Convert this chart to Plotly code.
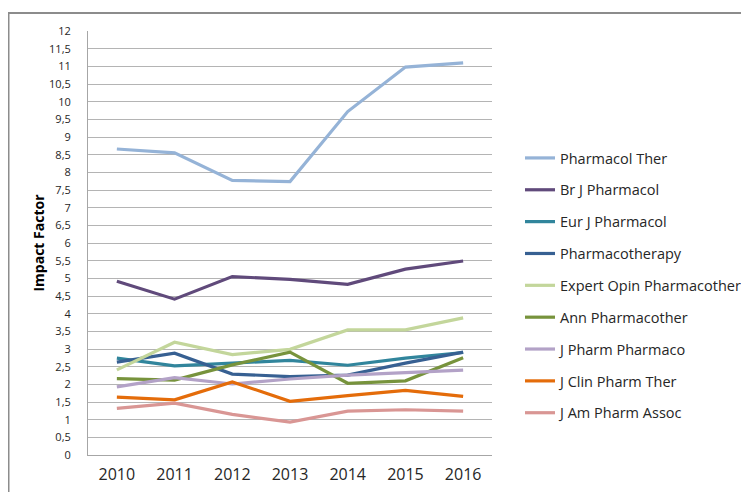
import plotly.graph_objects as go

years = ["2010", "2011", "2012", "2013", "2014", "2015", "2016"]

pharmacol_ther = [8.66, 8.55, 7.77, 7.74, 9.72, 10.98, 11.10]
br_j_pharmacol = [4.92, 4.41, 5.05, 4.97, 4.83, 5.26, 5.49]
eur_j_pharmacol = [2.74, 2.52, 2.60, 2.68, 2.54, 2.74, 2.90]
pharmacotherapy = [2.63, 2.88, 2.29, 2.22, 2.26, 2.60, 2.91]
expert_opin = [2.41, 3.19, 2.84, 2.99, 3.54, 3.54, 3.88]
ann_pharmacother = [2.16, 2.12, 2.55, 2.91, 2.03, 2.10, 2.75]
j_pharm_pharmaco = [1.93, 2.19, 2.01, 2.15, 2.26, 2.34, 2.40]
j_clin_pharm_ther = [1.64, 1.56, 2.07, 1.52, 1.68, 1.83, 1.66]
j_am_pharm_assoc = [1.32, 1.47, 1.15, 0.93, 1.24, 1.28, 1.24]

series_names = ["Pharmacol Ther", "Br J Pharmacol", "Eur J Pharmacol", "Pharmacotherapy",
                "Expert Opin Pharmacother", "Ann Pharmacother", "J Pharm Pharmaco",
                "J Clin Pharm Ther", "J Am Pharm Assoc"]
series_values = [pharmacol_ther, br_j_pharmacol, eur_j_pharmacol, pharmacotherapy,
                 expert_opin, ann_pharmacother, j_pharm_pharmaco, j_clin_pharm_ther,
                 j_am_pharm_assoc]
colors = ["#95B3D7", "#604A7B", "#31859C", "#376092", "#C3D69B",
          "#77933C", "#B3A2C7", "#E46C0A", "#D99694"]

fig = go.Figure()
for i, (name, vals, col) in enumerate(zip(series_names, series_values, colors)):
    fig.add_trace(go.Scatter(x=years, y=vals, mode="lines", name=name,
                             legendgroup=f"g{i}",
                             line=dict(color=col, width=3.2)))

# page has an 8px body margin; figure coordinates are page coordinates minus 8
W, H = 749, 492
ml, mr, mt, mb = 80, 265, 23, 45
pw, ph = W - ml - mr, H - mt - mb

fig.update_layout(
    width=W, height=H,
    margin=dict(l=ml, r=mr, t=mt, b=mb, autoexpand=False),
    paper_bgcolor="white", plot_bgcolor="white",
    separators=", ",
    font=dict(family="Open Sans, Liberation Sans, sans-serif", color="#262626"),
    showlegend=True,
    legend=dict(x=(512 - ml) / pw, xanchor="left", y=1 - (134 - mt) / ph, yanchor="top",
                font=dict(size=14.5, color="#262626"), traceorder="grouped",
                tracegroupgap=10, bgcolor="rgba(0,0,0,0)"),
    xaxis=dict(type="category", range=[-0.5, 6.5], showgrid=False, automargin=False,
               showline=True, linecolor="#a6a6a6", linewidth=1,
               ticks="", tickfont=dict(size=16, color="#262626"), ticklabelstandoff=5),
    yaxis=dict(range=[0, 12], dtick=0.5, tick0=0, showgrid=True, gridcolor="#b4b4b4",
               gridwidth=1, showline=True, linecolor="#a6a6a6", linewidth=1,
               zeroline=False, ticks="", tickfont=dict(size=11, color="#262626"),
               ticklabelstandoff=14, automargin=False,
               title=dict(text="<b>Impact Factor</b>", font=dict(size=14, color="black"),
                          standoff=1)),
    shapes=[dict(type="rect", xref="paper", yref="paper",
                 x0=(0.5 - ml) / pw, x1=(800 - ml) / pw,
                 y0=(H - mb - 520) / ph, y1=1 + (mt - 5) / ph,
                 line=dict(color="#8c8c8c", width=2), fillcolor="rgba(0,0,0,0)",
                 layer="below")],
)

fig.write_html("out.html")
